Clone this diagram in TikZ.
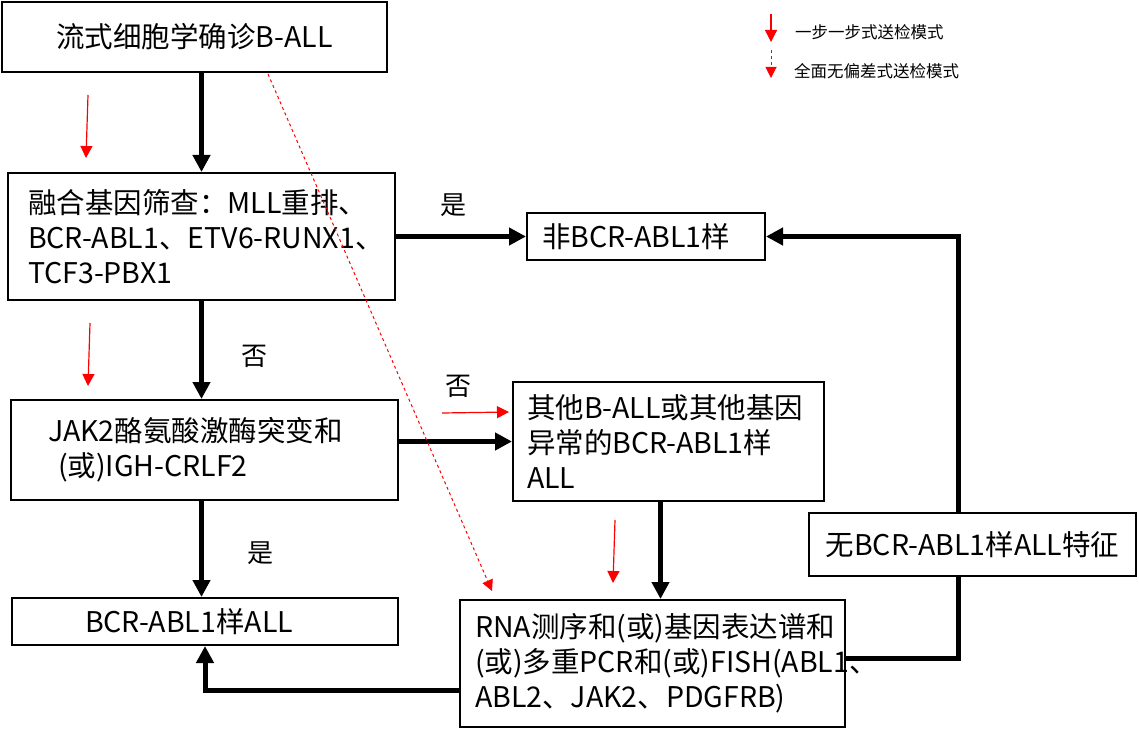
\documentclass[tikz,border=0pt]{standalone}
\usepackage{fontspec}
\setmainfont{Noto Sans CJK SC}
\usetikzlibrary{arrows.meta,calc}
\begin{document}
\begin{tikzpicture}[x=1pt,y=-1pt,
  box/.style={draw, line width=2pt, inner ysep=0pt, font=\fontsize{28.5}{35}\selectfont},
  bigarrow/.style={line width=5pt, -{Triangle[length=17pt,width=17pt]}},
  bigline/.style={line width=5pt},
  redarrow/.style={red, line width=1.2pt, -{Triangle[length=12pt,width=12pt]}},
  reddash/.style={red, line width=1pt, dash pattern=on 3pt off 3pt, -{Triangle[length=11pt,width=11pt]}},
  lab/.style={font=\fontsize{26}{30}\selectfont, inner sep=0pt},
  legtext/.style={font=\fontsize{16.5}{20}\selectfont, anchor=west, inner sep=0pt}]
\useasboundingbox (0,0) rectangle (1139,730);

% boxes
\node[box, minimum width=385pt, minimum height=70pt, align=center] (b1) at (194.5,37) {流式细胞学确诊B-ALL};
\node[box, text width=347pt, inner xsep=20pt, minimum height=127pt, align=left] (b2) at (201.5,236.5)
  {\mbox{融合基因筛查：MLL重排、}\\\mbox{BCR-ABL1、ETV6-RUNX1、}\\\mbox{TCF3-PBX1}};
\node[box, text width=208pt, inner xsep=15pt, minimum height=47pt, align=left] (b3) at (646,236.5) {\mbox{非BCR-ABL1样}};
\node[box, text width=313pt, inner xsep=37pt, minimum height=100pt, align=left] (b4) at (204.5,450)
  {\mbox{JAK2酪氨酸激酶突变和}\\\hspace*{10pt}\mbox{(或)IGH-CRLF2}};
\node[box, text width=283pt, inner xsep=14pt, minimum height=119pt, align=left] (b5) at (668.5,441.5)
  {\mbox{其他B-ALL或其他基因}\\\mbox{异常的BCR-ABL1样}\\ALL};
\node[box, text width=370pt, inner xsep=8pt, minimum height=47pt, align=left] (b6) at (205,621.5)
  {\hspace*{65pt}\mbox{BCR-ABL1样ALL}};
\node[box, text width=355pt, inner xsep=15pt, minimum height=127pt, align=left] (b7) at (652.5,663.5)
  {\mbox{RNA测序和(或)基因表达谱和}\\\mbox{(或)多重PCR和(或)FISH(ABL1、}\\\mbox{ABL2、JAK2、PDGFRB)}};
\node[box, minimum width=327pt, minimum height=63pt, align=center] (b8) at (972.5,544.5) {无BCR-ABL1样ALL特征};

% black connectors
\draw[bigarrow] (b1.south -| b2.north) -- (b2.north);
\draw[bigarrow] (b2.east) -- (b3.west);
\draw[bigarrow] (b2.south) -- (b2.south |- b4.north);
\draw[bigarrow] (b4.east |- b5.west) -- (b5.west);
\draw[bigarrow] (b2.south |- b4.south) -- (b2.south |- b6.north);
\draw[bigarrow] ($(b5.south)+(-8,0)$) -- ($(b5.south |- b7.north)+(-8,0)$);
\draw[bigarrow] ($(b7.west)+(0,27)$) -| (b6.south);
\draw[bigline] ($(b7.east)+(0,-5)$) -| ($(b8.south)+(-14,0)$);
\draw[bigarrow] ($(b8.north)+(-14,0)$) |- (b3.east);

% labels
\node[lab] (l1) at (453,205) {是};
\node[lab] (l2) at (254,356) {否};
\node[lab] (l3) at (458,386) {否};
\node[lab] (l4) at (260,553) {是};

% red step-by-step arrows
\coordinate (r1s) at (88,95);  \coordinate (r1e) at (86,158);
\coordinate (r2s) at (90,323); \coordinate (r2e) at (88,386);
\coordinate (r3s) at (442,413); \coordinate (r3e) at (509,412);
\coordinate (r4s) at (615,520); \coordinate (r4e) at (613,583);
\draw[redarrow] (r1s) -- (r1e);
\draw[redarrow] (r2s) -- (r2e);
\draw[redarrow] (r3s) -- (r3e);
\draw[redarrow] (r4s) -- (r4e);

% red dashed arrow
\coordinate (d1s) at (268,74); \coordinate (d1e) at (492,591);
\draw[reddash] (d1s) -- (d1e);

% legend
\coordinate (g1s) at (771,14); \coordinate (g1e) at (771,42);
\coordinate (g2s) at (771,50); \coordinate (g2e) at (771,78);
\draw[redarrow] (g1s) -- (g1e);
\draw[reddash] (g2s) -- (g2e);
\node[legtext] (t1) at (795,32) {一步一步式送检模式};
\node[legtext] (t2) at (794,71) {全面无偏差式送检模式};
\end{tikzpicture}
\end{document}
